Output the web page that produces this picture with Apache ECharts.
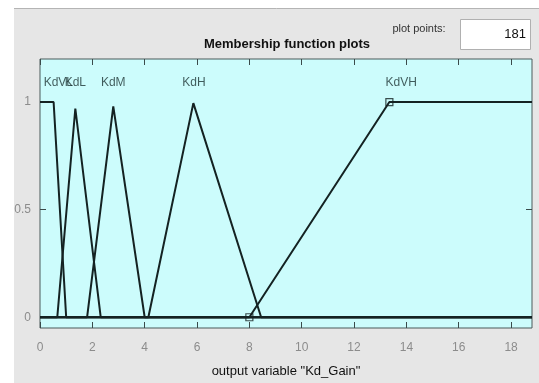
<!DOCTYPE html>
<html>
<head>
<meta charset="utf-8">
<script src="https://cdn.jsdelivr.net/npm/echarts@6/dist/echarts.min.js"></script>
<style>
  html, body { margin: 0; padding: 0; background: #fff; }
  #chart { width: 539px; height: 383px; }
</style>
</head>
<body>
<div id="chart"></div>
<script>
// Membership functions of the output variable "Kd_Gain" (x, membership degree)
const mfNames = ['KdVL', 'KdL', 'KdM', 'KdH', 'KdVH'];
const kdVL = [[0, 1], [0.52, 1], [1.0, 0], [18.8, 0]];
const kdL  = [[0, 0], [0.66, 0], [1.35, 0.97], [2.32, 0], [18.8, 0]];
const kdM  = [[0, 0], [1.8, 0], [2.8, 0.98], [4.0, 0], [18.8, 0]];
const kdH  = [[0, 0], [4.14, 0], [5.86, 0.995], [8.45, 0], [18.8, 0]];
const kdVH = [[0, 0], [8.0, 0], [13.35, 1], [18.8, 1]];
// Label anchors for each membership function name
const labelX = [0.7, 1.35, 2.8, 5.88, 13.8];
const labelY = 1.09;
// Selected-function corner markers
const selectedPoints = [[8.0, 0], [13.35, 1]];
// Axis ticks
const xTicks = [0, 2, 4, 6, 8, 10, 12, 14, 16, 18];
const yTicks = [0, 0.5, 1];
const xRange = [0, 18.8];
const yRange = [-0.05, 1.2];
const plotPoints = '181';

const FONT = "'Liberation Sans', Arial, sans-serif";
const LINE = '#142222';
const TICK = { color: '#3a4a4a', width: 1 };

const chart = echarts.init(document.getElementById('chart'), null, { renderer: 'canvas' });

const mfSeries = [kdVL, kdL, kdM, kdH, kdVH].map((d, i) => ({
  name: mfNames[i],
  type: 'line',
  data: d,
  showSymbol: false,
  symbol: 'none',
  lineStyle: { color: LINE, width: 2 },
  z: 3,
  silent: true,
  animation: false
}));

// Axes sit on the plot box edges (never on the zero line), with inward ticks on all four sides
function xAxisDef(position, extra) {
  return Object.assign({
    type: 'value',
    position: position,
    min: xRange[0],
    max: xRange[1],
    splitLine: { show: false },
    axisLine: { show: false, onZero: false },
    axisTick: { show: true, inside: true, length: 6, customValues: xTicks, lineStyle: TICK },
    axisLabel: { show: false }
  }, extra || {});
}
function yAxisDef(position, extra) {
  return Object.assign({
    type: 'value',
    position: position,
    min: yRange[0],
    max: yRange[1],
    splitLine: { show: false },
    axisLine: { show: false, onZero: false },
    axisTick: { show: true, inside: true, length: 6, customValues: yTicks, lineStyle: TICK },
    axisLabel: { show: false }
  }, extra || {});
}

chart.setOption({
  animation: false,
  backgroundColor: '#ffffff',
  grid: {
    left: 40, right: 7, top: 59, bottom: 53,
    show: true,
    backgroundColor: '#ccfcfc',
    borderColor: '#4a5a5a',
    borderWidth: 1
  },
  xAxis: [
    xAxisDef('bottom', {
      name: 'output variable "Kd_Gain"',
      nameLocation: 'middle',
      nameGap: 37,
      nameTextStyle: { color: '#111', fontSize: 13, fontFamily: FONT },
      axisLabel: { show: true, customValues: xTicks, margin: 14, color: '#8c8c8c', fontSize: 12, fontFamily: FONT }
    }),
    xAxisDef('top')
  ],
  yAxis: [
    yAxisDef('left', {
      axisLabel: { show: true, customValues: yTicks, margin: 9, color: '#8c8c8c', fontSize: 12, fontFamily: FONT }
    }),
    yAxisDef('right')
  ],
  graphic: [
    { type: 'rect', shape: { x: 14, y: 8, width: 530, height: 380 }, style: { fill: '#e6e6e6' }, z: -10, silent: true },
    { type: 'line', shape: { x1: 14, y1: 8.5, x2: 539, y2: 8.5 }, style: { stroke: '#b4b4b4', lineWidth: 1 }, z: -9, silent: true },
    { type: 'text', x: 287, y: 44, style: { text: 'Membership function plots', fontSize: 13, fontWeight: 'bold', fontFamily: FONT, fill: '#111', align: 'center', verticalAlign: 'middle' }, z: 5 },
    { type: 'text', x: 419, y: 29, style: { text: 'plot points:', fontSize: 11, fontFamily: FONT, fill: '#333', align: 'center', verticalAlign: 'middle' }, z: 5 },
    { type: 'rect', shape: { x: 460.5, y: 19.5, width: 70, height: 30 }, style: { fill: '#ffffff', stroke: '#b0b0b0', lineWidth: 1 }, z: 5 },
    { type: 'text', x: 526, y: 34, style: { text: plotPoints, fontSize: 13, fontFamily: FONT, fill: '#111', align: 'right', verticalAlign: 'middle' }, z: 6 }
  ],
  series: mfSeries.concat([
    {
      name: 'labels',
      type: 'scatter',
      data: mfNames.map((n, i) => ({ value: [labelX[i], labelY], name: n })),
      symbolSize: 0,
      itemStyle: { color: 'transparent' },
      label: {
        show: true,
        position: 'inside',
        formatter: p => p.name,
        color: '#1c3232',
        fontSize: 12,
        fontFamily: FONT
      },
      silent: true,
      z: 4
    },
    {
      name: 'selected',
      type: 'scatter',
      data: selectedPoints,
      symbol: 'rect',
      symbolSize: 7,
      itemStyle: { color: 'rgba(0,0,0,0)', borderColor: LINE, borderWidth: 1.2 },
      silent: true,
      z: 5
    }
  ])
});
</script>
</body>
</html>
